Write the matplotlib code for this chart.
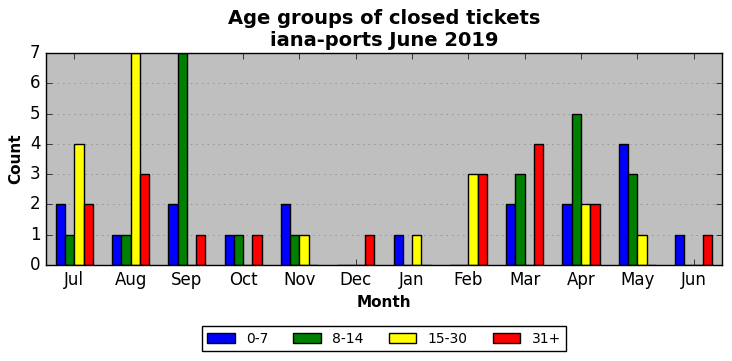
import numpy as np
import matplotlib
matplotlib.use("Agg")
import matplotlib.pyplot as plt

plt.style.use("classic")

months = ["Jul", "Aug", "Sep", "Oct", "Nov", "Dec", "Jan", "Feb", "Mar", "Apr", "May", "Jun"]
groups = ["0-7", "8-14", "15-30", "31+"]
age_0_7 = [2, 1, 2, 1, 2, 0, 1, 0, 2, 2, 4, 1]
age_8_14 = [1, 1, 7, 1, 1, 0, 0, 0, 3, 5, 3, 0]
age_15_30 = [4, 7, 0, 0, 1, 0, 1, 3, 0, 2, 1, 0]
age_31 = [2, 3, 1, 1, 0, 1, 0, 3, 4, 2, 0, 1]
colors = ["blue", "green", "yellow", "red"]

fig = plt.figure(figsize=(7.32, 3.61), dpi=100, facecolor="white")
ax = fig.add_axes([0.063, 0.266, 0.923, 0.587])
ax.set_facecolor("#bfbfbf")

x = np.arange(len(months))
w = 0.165
for i, (vals, c, lab) in enumerate(zip([age_0_7, age_8_14, age_15_30, age_31], colors, groups)):
    ax.bar(x + (i - 1.5) * w, vals, w, color=c, edgecolor="black", linewidth=1, label=lab, align="center")

ax.set_xlim(-0.5, len(months) - 0.5)
ax.set_ylim(0, 7)
ax.set_xticks(x)
ax.set_xticklabels(months)
ax.yaxis.grid(True, linestyle=":", color="gray")
ax.set_axisbelow(True)
ax.set_xlabel("Month", fontweight="bold", fontsize=11)
ax.set_ylabel("Count", fontweight="bold", fontsize=11)
ax.set_title("Age groups of closed tickets\niana-ports June 2019", fontweight="bold", fontsize=14)
ax.legend(loc="upper center", bbox_to_anchor=(0.5, -0.255), ncol=4, fontsize=10,
          columnspacing=1.8)

fig.savefig("out.png", dpi=100, facecolor="white")
